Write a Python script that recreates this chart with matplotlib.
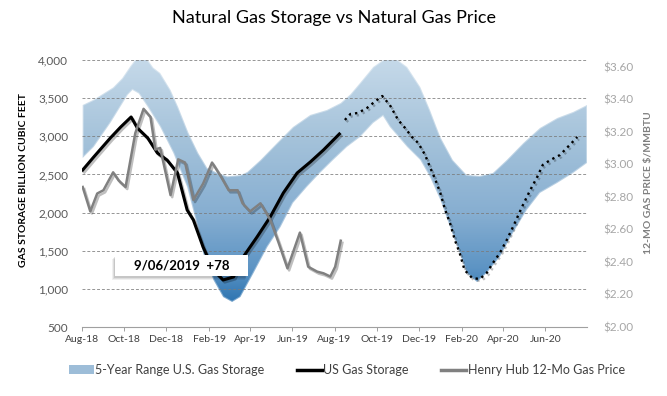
import numpy as np
import matplotlib
matplotlib.use("Agg")
import matplotlib.pyplot as plt
import matplotlib.dates as mdates
import matplotlib.patheffects as pe
from matplotlib.colors import LinearSegmentedColormap
from matplotlib.patches import Patch, Rectangle
from matplotlib.lines import Line2D
from matplotlib.path import Path
from matplotlib.patches import PathPatch

plt.rcParams['font.family'] = ['Lato', 'DejaVu Sans']

# ---------------- data ----------------
start_date = np.datetime64('2018-08-01')

# 5-year range upper bound (day offset from start, Bcf)
upper_days = [1, 17, 31, 45, 58, 70, 80, 92, 103, 113, 128, 139, 154, 168, 181, 196, 210, 229,
              239, 258, 282, 305, 330, 354, 374, 388, 402, 421, 440, 452, 470, 489, 503, 518,
              536, 556, 575, 594, 614, 638, 662, 687, 710, 730]
upper_vals = [3410, 3480, 3560, 3640, 3760, 3920, 4040, 4040, 3900, 3830, 3607, 3384, 3043, 2781,
              2585, 2519, 2475, 2490, 2532, 2689, 2912, 3122, 3280, 3345, 3437, 3550, 3700, 3909,
              4030, 4030, 3909, 3646, 3345, 2990, 2689, 2493, 2480, 2519, 2689, 2912, 3109, 3240,
              3319, 3410]

# 5-year range lower bound
lower_days = [1, 17, 41, 66, 73, 82, 95, 113, 132, 152, 167, 175, 190, 204, 217, 229, 248, 268,
              287, 305, 325, 344, 363, 383, 402, 421, 435, 445, 470, 489, 503, 518, 532, 546,
              556, 571, 585, 604, 623, 643, 662, 687, 710, 730]
lower_vals = [2716, 2860, 3174, 3541, 3607, 3560, 3384, 3122, 2781, 2335, 1811, 1470, 1116, 893,
              828, 893, 1208, 1549, 1811, 2126, 2335, 2519, 2689, 2860, 2990, 3174, 3266, 3122,
              2860, 2689, 2466, 2165, 1811, 1470, 1208, 1090, 1208, 1418, 1732, 2034, 2257, 2388,
              2519, 2650]

# US gas storage (actual)
storage_days = [1, 17, 41, 56, 71, 80, 95, 109, 123, 138, 152, 161, 175, 190, 204, 219, 233, 253,
                272, 291, 311, 330, 349, 372]
storage_vals = [2558, 2729, 2978, 3122, 3253, 3109, 2978, 2781, 2689, 2519, 2034, 1903, 1549, 1247,
                1116, 1156, 1418, 1680, 1942, 2257, 2519, 2663, 2820, 3030]

# US gas storage (projection, dotted)
proj_days = [380, 388, 399, 412, 421, 434, 445, 457, 467, 477, 486, 496, 503, 511, 518, 525, 532,
             539, 546, 553, 564, 575, 585, 594, 604, 614, 623, 636, 648, 658, 666, 677, 691, 705, 716]
proj_vals = [3214, 3292, 3306, 3371, 3437, 3528, 3410, 3214, 3109, 2990, 2912, 2755, 2598, 2427,
             2257, 2034, 1863, 1640, 1470, 1247, 1142, 1129, 1208, 1339, 1470, 1640, 1811, 2073,
             2296, 2466, 2624, 2689, 2755, 2886, 2990]

# Henry Hub 12-month strip price ($/MMBtu)
price_days = [1, 12, 22, 31, 45, 53, 63, 77, 89, 99, 106, 113, 128, 139, 149, 161, 175, 188, 200,
              212, 225, 232, 243, 258, 272, 284, 297, 315, 327, 340, 349, 359, 366, 374]
price_vals = [2.86, 2.71, 2.82, 2.84, 2.95, 2.90, 2.86, 3.19, 3.34, 3.29, 3.09, 3.10, 2.81, 3.03,
              3.01, 2.78, 2.88, 3.01, 2.93, 2.84, 2.84, 2.76, 2.71, 2.76, 2.66, 2.52, 2.36, 2.58,
              2.37, 2.34, 2.33, 2.31, 2.37, 2.53]

left_ticks = [500, 1000, 1500, 2000, 2500, 3000, 3500, 4000]
right_ticks = [2.00, 2.20, 2.40, 2.60, 2.80, 3.00, 3.20, 3.40, 3.60]

title = "Natural Gas Storage vs Natural Gas Price"
annotation = "9/06/2019  +78"


def to_dates(days):
    return (start_date + np.array(days).astype('timedelta64[D]')).astype('datetime64[D]').astype(object)


# ---------------- figure ----------------
fig = plt.figure(figsize=(6.67, 3.96), dpi=100)
ax = fig.add_axes([82 / 667, 1 - 327 / 396, (587 - 82) / 667, (327 - 60) / 396])
ax2 = ax.twinx()
ax.set_zorder(1)
ax2.set_zorder(2)
ax.patch.set_visible(False)

x0 = mdates.date2num(start_date.astype(object))
x1 = x0 + 730
ax.set_xlim(x0, x1)
ax.set_ylim(500, 4000)

# gridlines
for v in left_ticks[1:]:
    ax.axhline(v, color='#7a7a7a', lw=0.7, ls=(0, (3, 2)), zorder=2, alpha=0.8)

# band with vertical gradient
ud = mdates.date2num(to_dates(upper_days))
ldn = mdates.date2num(to_dates(lower_days))
verts = list(zip(ud, upper_vals)) + list(zip(ldn[::-1], lower_vals[::-1]))
band_path = Path(verts + [verts[0]], closed=True)
band_patch = PathPatch(band_path, facecolor='none', edgecolor='none')
ax.add_patch(band_patch)

cmap = LinearSegmentedColormap.from_list('band', [
    (0.0, '#1c63a4'), (0.09, '#2c74b1'), (0.22, '#5d94c4'), (0.42, '#86aed1'),
    (0.7, '#a4c2da'), (1.0, '#c5d9e9')])
grad = np.linspace(0, 1, 256).reshape(-1, 1)
im = ax.imshow(grad, aspect='auto', cmap=cmap, origin='lower',
               extent=[x0, x1, 500, 4000], zorder=1)
im.set_clip_path(band_patch)
ax.add_patch(PathPatch(band_path, facecolor='none', edgecolor='white', lw=1.5, alpha=0.35, zorder=1.5))

shadow = [pe.SimpleLineShadow(offset=(1.2, -1.5), shadow_color='#000000', alpha=0.25), pe.Normal()]

ax2.plot(to_dates(price_days), price_vals, color='#808080', lw=1.8, zorder=4,
         path_effects=shadow)

ax.plot(to_dates(storage_days), storage_vals, color='black', lw=2.2, zorder=5,
        solid_joinstyle='round', path_effects=shadow)
ax.plot(to_dates(proj_days), proj_vals, color='black', lw=1.7, ls=(0, (1, 1.7)), zorder=5,
        path_effects=shadow)

ax2.set_ylim(2.0, 3.64)
ax.set_xlim(x0, x1)
ax.set_ylim(500, 4000)

# axes styling
ax.set_yticks(left_ticks)
ax.set_yticklabels([f"{v:,}" for v in left_ticks])
ax.tick_params(axis='y', length=0, pad=10, labelsize=8.5, labelcolor='#595959')
ax.xaxis.set_major_locator(mdates.MonthLocator(bymonth=[2, 4, 6, 8, 10, 12]))
ax.xaxis.set_major_formatter(mdates.DateFormatter('%b-%y'))
ax.tick_params(axis='x', length=3, width=0.7, color='#a0a0a0', pad=3, labelsize=7.5,
               labelcolor='#404040')
for s in ['top', 'right', 'left']:
    ax.spines[s].set_visible(False)
ax.spines['bottom'].set_color('#a0a0a0')
ax.spines['bottom'].set_linewidth(0.8)

ax2.set_yticks(right_ticks)
ax2.set_yticklabels([f"${v:.2f}" for v in right_ticks])
ax2.tick_params(axis='y', length=0, pad=12, labelsize=8.5, labelcolor='#a6a6a6')
for s in ax2.spines.values():
    s.set_visible(False)

fig.text(24 / 667, 1 - 180 / 396, 'GAS STORAGE BILLION CUBIC FEET', rotation=90, ha='center',
         va='center', fontsize=7.5, fontweight='bold', color='black')
fig.text(648 / 667, 1 - 183 / 396, '12-MO GAS PRICE $/MMBTU', rotation=90, ha='center',
         va='center', fontsize=7.5, fontweight='bold', color='#7f7f7f')

fig.text(0.5, 1 - 18 / 396, title, ha='center', va='center', fontsize=13, color='black')

# annotation box (drawn on top of the axes), with a soft drop shadow
bx, by, bw, bh = 115 / 667, 1 - 276 / 396, 133 / 667, 21 / 396
for k, a in [(3.5, 0.06), (2.5, 0.08), (1.5, 0.10)]:
    ax2.add_patch(Rectangle((bx - k / 667, by - k / 396), bw, bh, transform=fig.transFigure,
                            facecolor='#000000', alpha=a, edgecolor='none', zorder=20,
                            clip_on=False))
ax2.add_patch(Rectangle((bx, by), bw, bh, transform=fig.transFigure, facecolor='white',
                        edgecolor='none', zorder=21, clip_on=False))
ax2.text(181.5 / 667, 1 - 265.5 / 396, annotation, transform=fig.transFigure, ha='center',
         va='center', fontsize=9.5, fontweight='bold', color='black', zorder=22)

# legend
handles = [Patch(facecolor='#9dbdd8', edgecolor='none'),
           Line2D([0], [0], color='black', lw=2.5),
           Line2D([0], [0], color='#808080', lw=2.5)]
labels = ['5-Year Range U.S. Gas Storage', 'US Gas Storage', 'Henry Hub 12-Mo Gas Price']
fig.legend(handles, labels, loc='center', bbox_to_anchor=(347 / 667, 1 - 370 / 396), ncol=3,
           frameon=False, fontsize=9, handlelength=2.0, handletextpad=0.1, columnspacing=2.6,
           labelcolor='#404040')

fig.savefig('out.png', dpi=100)
